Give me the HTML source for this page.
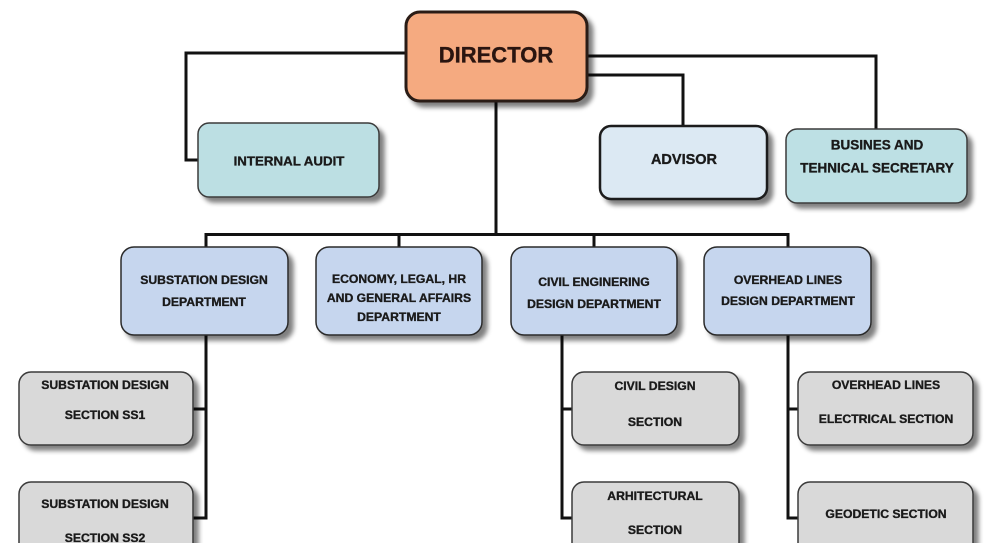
<!DOCTYPE html>
<html><head><meta charset="utf-8"><style>
html,body{margin:0;padding:0;background:#fff;}
svg{display:block;}
text{font-family:"Liberation Sans",Arial,sans-serif;font-weight:bold;fill:#1a1a1a;stroke:#1a1a1a;stroke-width:0.35;text-anchor:middle;dominant-baseline:central;}
</style></head><body>
<svg width="1000" height="543" viewBox="0 0 1000 543" xmlns="http://www.w3.org/2000/svg">
<defs>
<filter id="sh" x="-10%" y="-10%" width="130%" height="140%">
<feGaussianBlur in="SourceAlpha" stdDeviation="2.5"/>
<feOffset dx="5" dy="5" result="b"/>
<feComponentTransfer><feFuncA type="linear" slope="0.5"/></feComponentTransfer>
<feMerge><feMergeNode/><feMergeNode in="SourceGraphic"/></feMerge>
</filter>
</defs>
<g fill="none" stroke="#111" stroke-width="3">
<polyline points="406,53 186,53 186,160 198,160"/>
<polyline points="587,56 876,56 876,129"/>
<polyline points="587,75 683,75 683,126"/>
<line x1="496" y1="101" x2="496" y2="236"/>
<line x1="204.5" y1="234.5" x2="789.5" y2="234.5"/>
<line x1="206" y1="234" x2="206" y2="247"/>
<line x1="399" y1="234" x2="399" y2="247"/>
<line x1="594" y1="234" x2="594" y2="247"/>
<line x1="788" y1="234" x2="788" y2="247"/>
<polyline points="206,335 206,518 193,518"/>
<line x1="193" y1="409" x2="206" y2="409"/>
<polyline points="562,335 562,518 572,518"/>
<line x1="562" y1="409" x2="572" y2="409"/>
<polyline points="788,335 788,518 798,518"/>
<line x1="788" y1="409" x2="798" y2="409"/>
</g>
<g filter="url(#sh)">
<rect x="406" y="12" width="181" height="89" rx="14" fill="#f5aa80" stroke="#2a1a12" stroke-width="3"/>
<rect x="198" y="123" width="181" height="74" rx="11" fill="#bcdfe3" stroke="#3a3a3a" stroke-width="1.5"/>
<rect x="600" y="126" width="167" height="73" rx="11" fill="#dce9f3" stroke="#1a1a1a" stroke-width="2.5"/>
<rect x="786" y="129" width="181" height="74" rx="11" fill="#bde0e4" stroke="#3a3a3a" stroke-width="1.5"/>
<rect x="121" y="247" width="167" height="88" rx="13" fill="#c6d6ee" stroke="#2a2a2a" stroke-width="1.5"/>
<rect x="316" y="247" width="166" height="88" rx="13" fill="#c6d6ee" stroke="#2a2a2a" stroke-width="1.5"/>
<rect x="511" y="247" width="166" height="88" rx="13" fill="#c6d6ee" stroke="#2a2a2a" stroke-width="1.5"/>
<rect x="704" y="247" width="167" height="88" rx="13" fill="#c6d6ee" stroke="#2a2a2a" stroke-width="1.5"/>
<rect x="19" y="372" width="174" height="73" rx="12" fill="#d9d9d9" stroke="#3a3a3a" stroke-width="1.5"/>
<rect x="19" y="482" width="174" height="80" rx="12" fill="#d9d9d9" stroke="#3a3a3a" stroke-width="1.5"/>
<rect x="572" y="372" width="167" height="73" rx="12" fill="#d9d9d9" stroke="#3a3a3a" stroke-width="1.5"/>
<rect x="572" y="482" width="167" height="80" rx="12" fill="#d9d9d9" stroke="#3a3a3a" stroke-width="1.5"/>
<rect x="798" y="372" width="175" height="73" rx="12" fill="#d9d9d9" stroke="#3a3a3a" stroke-width="1.5"/>
<rect x="798" y="482" width="175" height="80" rx="12" fill="#d9d9d9" stroke="#3a3a3a" stroke-width="1.5"/>
</g>
<text x="496" y="55" font-size="22" style="fill:#2a1510;stroke:#2a1510">DIRECTOR</text>
<text x="289" y="161" font-size="13.3">INTERNAL AUDIT</text>
<text x="684" y="160" font-size="14.5">ADVISOR</text>
<text x="877" y="145" font-size="13.5">BUSINES AND</text>
<text x="877" y="168" font-size="13.5">TEHNICAL SECRETARY</text>
<g font-size="12.2">
<text x="204" y="280">SUBSTATION DESIGN</text>
<text x="204" y="302">DEPARTMENT</text>
<text x="399" y="279">ECONOMY, LEGAL, HR</text>
<text x="399" y="298">AND GENERAL AFFAIRS</text>
<text x="399" y="317">DEPARTMENT</text>
<text x="594" y="282">CIVIL ENGINERING</text>
<text x="594" y="304">DESIGN DEPARTMENT</text>
<text x="788" y="280">OVERHEAD LINES</text>
<text x="788" y="301">DESIGN DEPARTMENT</text>
<text x="105" y="385">SUBSTATION DESIGN</text>
<text x="105" y="415">SECTION SS1</text>
<text x="105" y="504">SUBSTATION DESIGN</text>
<text x="105" y="538">SECTION SS2</text>
<text x="655" y="386">CIVIL DESIGN</text>
<text x="655" y="422">SECTION</text>
<text x="655" y="496">ARHITECTURAL</text>
<text x="655" y="530">SECTION</text>
<text x="886" y="385">OVERHEAD LINES</text>
<text x="886" y="419">ELECTRICAL SECTION</text>
<text x="886" y="514">GEODETIC SECTION</text>
</g>
</svg>
</body></html>
